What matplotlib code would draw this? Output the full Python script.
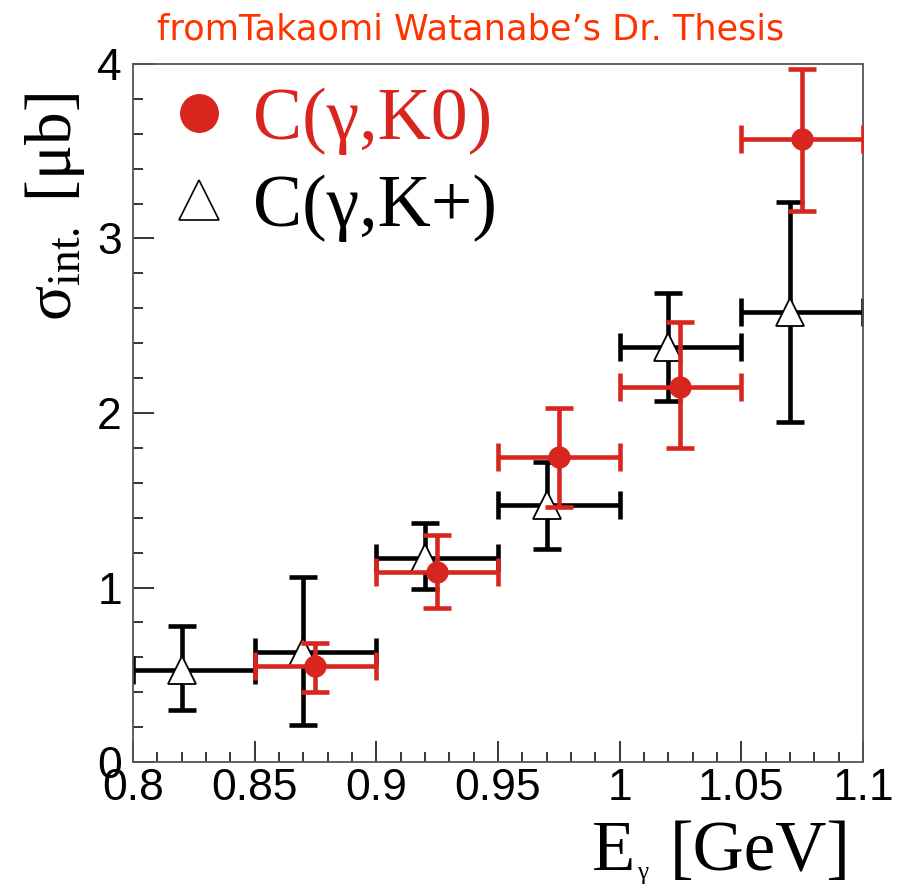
import numpy as np
import matplotlib
matplotlib.use("Agg")
import matplotlib.pyplot as plt
from matplotlib.lines import Line2D
from matplotlib.ticker import MultipleLocator

# C(gamma,K+) : open triangles
kp_x = [0.82, 0.87, 0.92, 0.97, 1.02, 1.07]
kp_y = [0.53, 0.63, 1.17, 1.47, 2.38, 2.58]
kp_ylo = [0.30, 0.21, 0.99, 1.22, 2.07, 1.95]
kp_yhi = [0.78, 1.06, 1.37, 1.72, 2.69, 3.21]
kp_xlo = [0.80, 0.85, 0.90, 0.95, 1.00, 1.05]
kp_xhi = [0.85, 0.90, 0.95, 1.00, 1.05, 1.10]

# C(gamma,K0) : filled red circles
k0_x = [0.875, 0.925, 0.975, 1.025, 1.075]
k0_y = [0.55, 1.09, 1.75, 2.15, 3.57]
k0_ylo = [0.40, 0.88, 1.46, 1.80, 3.16]
k0_yhi = [0.68, 1.30, 2.03, 2.52, 3.97]
k0_xlo = [0.85, 0.90, 0.95, 1.00, 1.05]
k0_xhi = [0.90, 0.95, 1.00, 1.05, 1.10]

xticklabels = ['0.8', '0.85', '0.9', '0.95', '1', '1.05', '1.1']
yticklabels = ['0', '1', '2', '3', '4']

red = '#d8261f'

plt.rcParams['mathtext.fontset'] = 'custom'
plt.rcParams['mathtext.rm'] = 'Liberation Serif'
plt.rcParams['mathtext.it'] = 'Liberation Serif:italic'

fig = plt.figure(figsize=(8.99, 8.88), dpi=100)
ax = fig.add_axes([133/899, 1-762/888, (863-133)/899, (762-64)/888])

def errs(x, y, lo, hi, xlo, xhi):
    x = np.array(x); y = np.array(y)
    yerr = [y - np.array(lo), np.array(hi) - y]
    xerr = [x - np.array(xlo), np.array(xhi) - x]
    return x, y, xerr, yerr

x, y, xe, ye = errs(kp_x, kp_y, kp_ylo, kp_yhi, kp_xlo, kp_xhi)
ax.errorbar(x, y, xerr=xe, yerr=ye, fmt='none', ecolor='black',
            elinewidth=3.3, capsize=10, capthick=3.3, zorder=2)
ax.plot(x, y, '^', ms=20, mfc='white', mec='black', mew=1.3, ls='none', zorder=3)

x, y, xe, ye = errs(k0_x, k0_y, k0_ylo, k0_yhi, k0_xlo, k0_xhi)
ax.errorbar(x, y, xerr=xe, yerr=ye, fmt='none', ecolor=red,
            elinewidth=3.3, capsize=10, capthick=3.3, zorder=4)
ax.plot(x, y, 'o', ms=15, color=red, ls='none', zorder=5)

ax.set_xlim(0.8, 1.1)
ax.set_ylim(0, 4)
ax.set_xticks(np.arange(0.8, 1.101, 0.05), labels=xticklabels)
ax.set_yticks(np.arange(0, 4.01, 1), labels=yticklabels)
ax.xaxis.set_minor_locator(MultipleLocator(0.01))
ax.yaxis.set_minor_locator(MultipleLocator(0.2))
ax.tick_params(which='major', direction='in', length=15, width=1.1, labelsize=32, pad=4)
ax.tick_params(which='minor', direction='in', length=7.5, width=1.1)
ax.tick_params(axis='y', pad=8)
for lab in ax.get_xticklabels() + ax.get_yticklabels():
    lab.set_family(['Liberation Sans', 'DejaVu Sans'])
for s in ax.spines.values():
    s.set_color('#555555')
    s.set_linewidth(1.3)

handles = [Line2D([], [], marker='o', ms=27, color=red, ls='none'),
           Line2D([], [], marker='^', ms=29, mfc='white', mec='black', mew=1.2, ls='none')]
leg = ax.legend(handles, ['C(γ,K0)', 'C(γ,K+)'], loc='upper left', frameon=False,
                prop={'family': 'Liberation Serif', 'size': 53},
                bbox_to_anchor=(0.05, 0.966), handletextpad=0.33, labelspacing=0.26,
                handlelength=0.8, borderaxespad=0, borderpad=0)
leg.get_texts()[0].set_color(red)

fig.text(55/899, 1-93/888, r'$\mathrm{\sigma}_{\mathrm{int.}}$ [$\mathrm{\mu}$b]', rotation=90,
         ha='center', va='top', fontsize=47, family='Liberation Serif')
# x title: E, small gamma subscript, [GeV]
fig.text(851/899, 1-870/888, '[GeV]', ha='right', va='baseline',
         fontsize=51, family='Liberation Serif')
fig.text(592/899, 1-870/888, 'E', ha='left', va='baseline',
         fontsize=51, family='Liberation Serif')
fig.text(637/899, 1-879/888, 'γ', ha='left', va='baseline',
         fontsize=18, family='Liberation Serif')
fig.text(471/899, 1-30/888, "fromTakaomi Watanabe’s Dr. Thesis", ha='center', va='center',
         fontsize=25.3, color='#ff3300', family='DejaVu Sans')

fig.savefig('out.png', dpi=100)
